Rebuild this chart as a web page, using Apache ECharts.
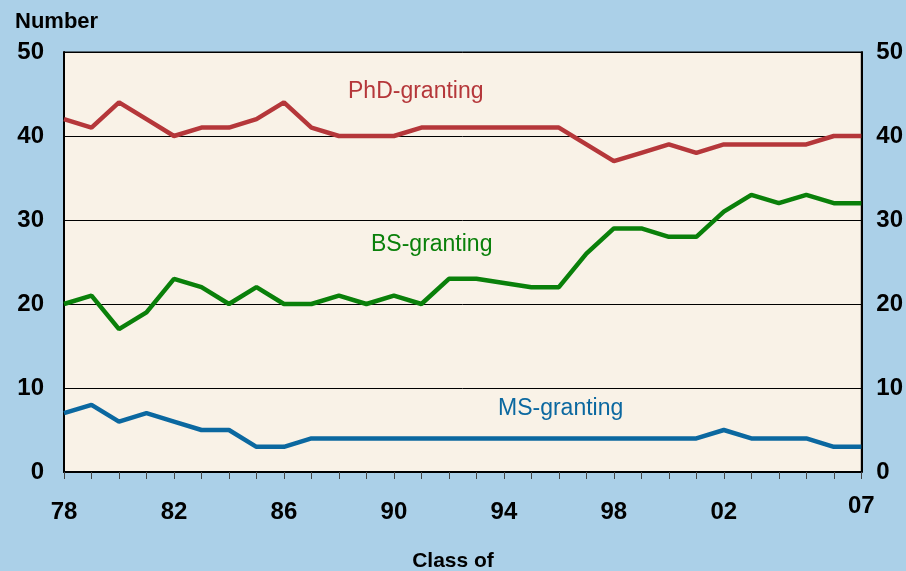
<!DOCTYPE html>
<html>
<head>
<meta charset="utf-8">
<script src="https://cdn.jsdelivr.net/npm/echarts@6/dist/echarts.min.js"></script>
<style>
  html, body { margin: 0; padding: 0; background: #abd0e8; }
  #chart { width: 906px; height: 571px; }
</style>
</head>
<body>
<div id="chart"></div>
<script>
var years = ['78','79','80','81','82','83','84','85','86','87','88','89','90','91','92','93','94','95','96','97','98','99','00','01','02','03','04','05','06','07'];
var phd = [42,41,44,42,40,41,41,42,44,41,40,40,40,41,41,41,41,41,41,39,37,38,39,38,39,39,39,39,40,40];
var bs  = [20,21,17,19,23,22,20,22,20,20,21,20,21,20,23,23,22.5,22,22,26,29,29,28,28,31,33,32,33,32,32];
var ms  = [7,8,6,7,6,5,5,3,3,4,4,4,4,4,4,4,4,4,4,4,4,4,4,4,5,4,4,4,3,3];
var yTicks = [0, 10, 20, 30, 40, 50];

var myChart = echarts.init(document.getElementById('chart'));
var font = 'Liberation Sans, Arial, sans-serif';

function yAxis(pos) {
    return {
        type: 'value',
        position: pos,
        min: yTicks[0],
        max: yTicks[yTicks.length - 1],
        interval: 10,
        axisLine: { show: true, lineStyle: { color: '#000', width: 2 } },
        axisTick: { show: false },
        splitLine: { show: pos === 'left', lineStyle: { color: '#000', width: 1 } },
        axisLabel: {
            color: '#000',
            fontFamily: font,
            fontWeight: 'bold',
            fontSize: 24,
            margin: pos === 'left' ? 20 : 15
        }
    };
}

var option = {
    backgroundColor: '#abd0e8',
    animation: false,
    grid: {
        show: true,
        left: 64,
        right: 44,
        top: 52,
        bottom: 99,
        backgroundColor: '#f9f2e7',
        borderColor: '#000',
        borderWidth: 1
    },
    title: [
        {
            text: 'Number', left: 10, top: 6,
            textStyle: { fontFamily: font, fontWeight: 'bold', fontSize: 22, color: '#000' }
        },
        {
            text: 'Class of', left: 'center', top: 546,
            textStyle: { fontFamily: font, fontWeight: 'bold', fontSize: 21, color: '#000' }
        }
    ],
    xAxis: {
        type: 'category',
        boundaryGap: false,
        data: years,
        axisLine: { show: true, lineStyle: { color: '#000', width: 2 } },
        axisTick: { show: true, interval: 0, length: 7, lineStyle: { color: '#444', width: 1 } },
        axisLabel: {
            interval: 0,
            margin: 22,
            formatter: function (v, i) {
                if (i === years.length - 1) return '{hi|' + v + '}';
                return (i % 4 === 0 && i < years.length - 2) ? '{n|' + v + '}' : '';
            },
            rich: {
                n:  { fontFamily: font, fontWeight: 'bold', fontSize: 24, color: '#000', lineHeight: 36 },
                hi: { fontFamily: font, fontWeight: 'bold', fontSize: 24, color: '#000', lineHeight: 24 }
            }
        }
    },
    yAxis: [yAxis('left'), yAxis('right')],
    graphic: [
        { type: 'text', left: 348, top: 80, style: { text: 'PhD-granting', fill: '#b5373a', font: '23px ' + font } },
        { type: 'text', left: 371, top: 233, style: { text: 'BS-granting', fill: '#0a800a', font: '23px ' + font } },
        { type: 'text', left: 498, top: 397, style: { text: 'MS-granting', fill: '#0b68a0', font: '23px ' + font } }
    ],
    series: [
        { name: 'PhD-granting', type: 'line', data: phd, symbol: 'none', lineStyle: { color: '#b5373a', width: 4.5 } },
        { name: 'BS-granting', type: 'line', data: bs, symbol: 'none', lineStyle: { color: '#0a800a', width: 4.5 } },
        { name: 'MS-granting', type: 'line', data: ms, symbol: 'none', lineStyle: { color: '#0b68a0', width: 4.5 } }
    ]
};
myChart.setOption(option);
</script>
</body>
</html>
